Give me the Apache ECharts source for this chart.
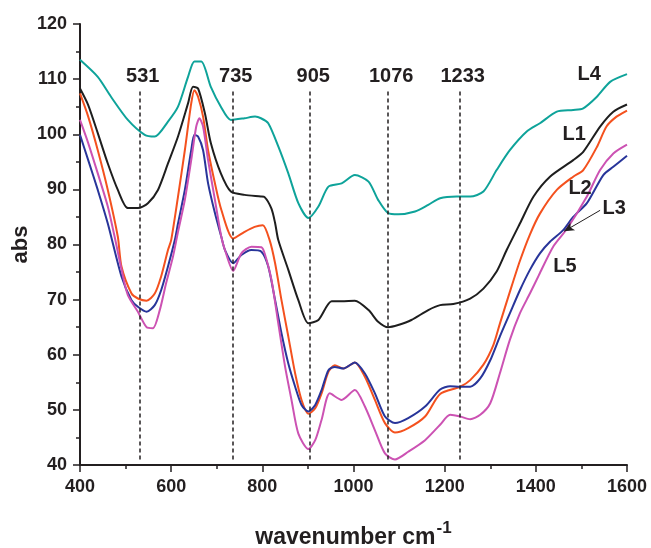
<!DOCTYPE html>
<html>
<head>
<meta charset="utf-8">
<script src="https://cdn.jsdelivr.net/npm/echarts@6/dist/echarts.min.js"></script>
<style>
  html, body { margin: 0; padding: 0; background: #fff; }
  #chart { width: 651px; height: 548px; }
</style>
</head>
<body>
<div id="chart"></div>
<script>
// IR spectra of five samples, absorbance vs wavenumber
const l1Wave = [400, 418, 439, 461, 483, 505, 527, 549, 571, 593, 615, 637, 648, 659, 674, 687, 709, 731, 761, 797, 805, 820, 828, 835, 857, 879, 901, 923, 952, 974, 1003, 1033, 1054, 1076, 1098, 1127, 1164, 1190, 1219, 1256, 1285, 1314, 1336, 1365, 1395, 1431, 1482, 1504, 1541, 1570, 1600];
const l1Abs  = [108.3, 105.3, 100.2, 94.7, 89.9, 86.6, 86.6, 87.5, 89.9, 94.7, 99.6, 105.6, 108.6, 108.3, 103.8, 98.4, 92.9, 89.6, 89.0, 88.7, 88.6, 86.5, 83.9, 80.8, 75.4, 69.9, 65.7, 66.3, 69.7, 69.7, 69.8, 68.1, 66.0, 65.0, 65.4, 66.3, 68.1, 69.0, 69.2, 70.2, 72.0, 75.1, 79.0, 83.8, 88.7, 92.3, 95.3, 96.8, 101.4, 104.1, 105.4];

const l2Wave = [400, 418, 439, 461, 483, 491, 513, 527, 546, 564, 578, 593, 600, 615, 630, 644, 651, 659, 670, 681, 696, 710, 736, 761, 783, 801, 816, 828, 842, 857, 872, 886, 901, 916, 930, 945, 959, 978, 1003, 1025, 1047, 1069, 1091, 1120, 1157, 1190, 1234, 1256, 1285, 1307, 1321, 1343, 1365, 1387, 1409, 1446, 1482, 1504, 1534, 1555, 1577, 1600];
const l2Abs  = [107.4, 103.2, 97.1, 89.9, 81.4, 76.0, 71.1, 70.2, 69.8, 71.1, 74.2, 79.0, 80.8, 88.7, 97.1, 105.6, 108.0, 106.8, 103.2, 97.1, 91.1, 86.3, 81.1, 82.3, 83.2, 83.5, 80.8, 76.6, 69.9, 63.3, 56.6, 51.8, 49.3, 50.3, 53.0, 56.9, 58.1, 57.5, 58.6, 56.0, 51.8, 47.6, 45.9, 46.7, 48.8, 52.9, 54.2, 55.4, 58.2, 61.8, 65.6, 71.4, 77.0, 81.8, 85.6, 89.9, 92.3, 93.5, 97.7, 101.4, 103.2, 104.3];

const l3Wave = [400, 418, 439, 461, 491, 513, 527, 546, 564, 578, 593, 608, 615, 630, 644, 651, 659, 670, 681, 696, 710, 718, 736, 754, 776, 798, 813, 828, 842, 857, 872, 886, 901, 916, 930, 945, 959, 978, 1003, 1025, 1047, 1069, 1091, 1120, 1157, 1190, 1212, 1234, 1256, 1278, 1300, 1321, 1343, 1365, 1387, 1409, 1431, 1460, 1482, 1512, 1548, 1570, 1600];
const l3Abs  = [99.9, 95.3, 89.9, 83.8, 74.2, 69.9, 68.7, 67.8, 69.0, 71.7, 76.0, 80.8, 83.8, 89.9, 97.1, 99.9, 99.6, 97.1, 91.1, 85.7, 81.4, 79.0, 76.6, 78.1, 79.0, 78.7, 76.0, 69.9, 63.9, 58.4, 54.2, 50.9, 49.7, 50.9, 53.6, 57.2, 57.8, 57.5, 58.6, 56.6, 53.0, 48.8, 47.6, 48.5, 50.6, 53.7, 54.3, 54.2, 54.2, 55.7, 59.0, 63.3, 67.5, 71.7, 75.4, 78.4, 80.5, 82.6, 85.0, 87.5, 92.6, 94.1, 96.1];

const l4Wave = [400, 439, 468, 505, 542, 564, 593, 615, 637, 651, 666, 687, 709, 731, 761, 784, 797, 813, 835, 857, 879, 901, 923, 945, 974, 1003, 1033, 1054, 1076, 1098, 1135, 1164, 1190, 1226, 1256, 1285, 1314, 1343, 1380, 1409, 1446, 1482, 1504, 1534, 1563, 1600];
const l4Abs  = [113.5, 110.4, 106.8, 102.6, 99.9, 99.6, 102.3, 105.0, 110.4, 113.2, 113.2, 108.6, 105.0, 102.6, 102.9, 103.2, 102.9, 102.0, 97.8, 92.9, 87.5, 84.8, 86.9, 90.5, 91.1, 92.6, 91.4, 88.1, 85.7, 85.5, 86.0, 87.2, 88.4, 88.7, 88.7, 89.6, 93.5, 97.1, 100.5, 102.0, 104.1, 104.4, 104.7, 106.8, 109.5, 110.9];

const l5Wave = [400, 418, 439, 461, 476, 491, 505, 527, 546, 560, 575, 589, 604, 615, 630, 644, 655, 662, 670, 681, 696, 710, 718, 736, 754, 776, 798, 805, 820, 835, 850, 864, 879, 901, 916, 930, 948, 974, 1003, 1025, 1047, 1069, 1091, 1120, 1157, 1190, 1212, 1234, 1256, 1278, 1300, 1321, 1343, 1365, 1387, 1407, 1438, 1468, 1512, 1541, 1570, 1600];
const l5Abs  = [102.6, 98.4, 92.9, 86.9, 81.4, 75.5, 70.8, 67.8, 65.0, 64.8, 68.1, 73.0, 77.8, 82.3, 88.1, 95.3, 101.4, 102.9, 101.4, 95.3, 88.1, 81.4, 79.0, 75.2, 78.4, 79.6, 79.5, 78.4, 73.6, 65.7, 57.8, 51.8, 45.7, 42.9, 44.5, 48.2, 53.0, 51.8, 53.6, 50.6, 46.3, 42.1, 41.0, 42.4, 44.5, 47.3, 49.1, 48.8, 48.3, 49.1, 51.2, 56.6, 62.7, 67.5, 71.1, 74.5, 79.6, 82.8, 88.7, 93.5, 96.5, 98.1];

// band positions marked with dashed guides
const bandPeaks = [531, 735, 905, 1076, 1233];
const bandLow = 41;
const bandHigh = 108;

// where the sample names sit, in data units
const namePos = {
  L1: [1484, 100.0],
  L2: [1497, 90.1],
  L3: [1572, 86.6],
  L4: [1517, 110.9],
  L5: [1464, 76.1]
};
const arrowFrom = [1541, 86.2];
const arrowTo = [1462, 82.4];

const ink = '#231f20';
const font = '"Liberation Sans", Arial, Helvetica, sans-serif';

const colors = { L1: '#1e1e1e', L2: '#f4511e', L3: '#28359a', L4: '#0ea39a', L5: '#cc52b3' };
const waves = { L1: l1Wave, L2: l2Wave, L3: l3Wave, L4: l4Wave, L5: l5Wave };
const absVals = { L1: l1Abs, L2: l2Abs, L3: l3Abs, L4: l4Abs, L5: l5Abs };

function pairs(xs, ys) { return xs.map((x, i) => [x, ys[i]]); }

const drawOrder = ['L1', 'L2', 'L3', 'L5', 'L4'];
const series = drawOrder.map(name => ({
  name: name,
  type: 'line',
  data: pairs(waves[name], absVals[name]),
  showSymbol: false,
  smooth: 0.25,
  lineStyle: { color: colors[name], width: 2 },
  itemStyle: { color: colors[name] },
  animation: false,
  markPoint: {
    silent: true,
    symbol: 'circle',
    symbolSize: 0,
    animation: false,
    label: {
      show: true,
      formatter: name,
      fontFamily: font,
      fontWeight: 'bold',
      fontSize: 20,
      color: ink
    },
    data: [{ coord: namePos[name] }]
  }
}));

// dashed band guides, labelled with the band wavenumber
series[0].markLine = {
  silent: true,
  symbol: 'none',
  animation: false,
  lineStyle: { color: ink, type: [4, 3], width: 1.5 },
  label: {
    show: true,
    position: 'end',
    formatter: '{b}',
    fontFamily: font,
    fontWeight: 'bold',
    fontSize: 20,
    color: ink,
    distance: 4,
    offset: [3, 0]
  },
  data: bandPeaks.map(p => [
    { coord: [p, bandLow], name: String(p) },
    { coord: [p, bandHigh] }
  ])
};

// pointer from the L3 label to its curve
series[2].markLine = {
  silent: true,
  symbol: ['none', 'arrow'],
  symbolSize: [7, 10],
  animation: false,
  label: { show: false },
  lineStyle: { color: ink, type: 'solid', width: 1 },
  data: [[{ coord: arrowFrom }, { coord: arrowTo }]]
};

const axisCommon = {
  type: 'value',
  splitLine: { show: false },
  axisLine: { show: true, lineStyle: { color: ink, width: 2 } },
  axisTick: { show: true, inside: false, length: 7, lineStyle: { color: ink, width: 1.5 } },
  minorTick: { show: true, splitNumber: 2, length: 4, lineStyle: { color: ink, width: 1.5 } },
  minorSplitLine: { show: false }
};

const chart = echarts.init(document.getElementById('chart'), null, { renderer: 'canvas' });
chart.setOption({
  backgroundColor: '#ffffff',
  animation: false,
  grid: { left: 80, right: 24, top: 24, bottom: 83, containLabel: false, outerBoundsMode: 'none' },
  xAxis: Object.assign({}, axisCommon, {
    min: 400, max: 1600, interval: 200,
    axisLabel: { fontFamily: font, fontWeight: 'bold', fontSize: 18, color: ink, margin: 13, formatter: v => String(v) },
    name: '{a|wavenumber cm}{b|-1}',
    nameLocation: 'middle',
    nameGap: 55,
    nameMoveOverlap: false,
    nameTextStyle: {
      rich: {
        a: { fontFamily: font, fontWeight: 'bold', fontSize: 23, color: ink, verticalAlign: 'bottom' },
        b: { fontFamily: font, fontWeight: 'bold', fontSize: 17, color: ink, verticalAlign: 'bottom', padding: [0, 0, 12, 1] }
      }
    }
  }),
  yAxis: Object.assign({}, axisCommon, {
    min: 40, max: 120, interval: 10,
    axisLabel: { fontFamily: font, fontWeight: 'bold', fontSize: 18, color: ink, margin: 13, formatter: v => String(v) },
    name: 'abs',
    nameLocation: 'middle',
    nameRotate: 90,
    nameGap: 48,
    nameMoveOverlap: false,
    nameTextStyle: { fontFamily: font, fontWeight: 'bold', fontSize: 22, color: ink }
  }),
  series: series
});
</script>
</body>
</html>
